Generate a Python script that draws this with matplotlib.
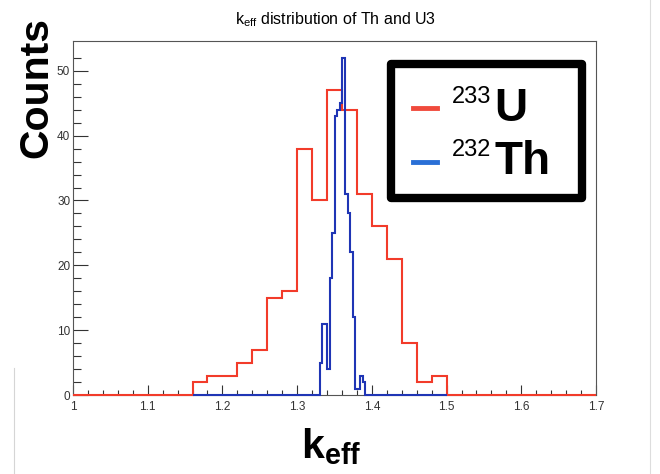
import matplotlib
matplotlib.use("Agg")
import matplotlib.pyplot as plt
from matplotlib.patches import Rectangle
from matplotlib.lines import Line2D
import numpy as np

plt.rcParams['font.family'] = ['Liberation Sans', 'DejaVu Sans']
plt.rcParams['mathtext.fontset'] = 'custom'
plt.rcParams['mathtext.rm'] = 'Liberation Sans'
plt.rcParams['mathtext.it'] = 'Liberation Sans'
plt.rcParams['mathtext.bf'] = 'Liberation Sans:bold'

# ---------------- data ----------------
title = r'k$_{\mathrm{eff}}$ distribution of Th and U3'
xlabel = r'$\mathbf{k_{eff}}$'
ylabel = 'Counts'

# U-233 histogram: 35 bins from 1.0 to 1.7
u233_range = (1.0, 1.7)
u233_counts = [0, 0, 0, 0, 0, 0, 0, 0,
               2, 3, 3, 5, 7, 15, 16, 38, 30, 47, 44, 31, 26, 21, 8, 2, 3,
               0, 0, 0, 0, 0, 0, 0, 0, 0, 0]

# Th-232 histogram: 100 bins from 1.16 to 1.5
th232_range = (1.16, 1.5)
th232_counts = ([0] * 50 +
                [5, 11, 11, 4, 18, 25, 43, 44, 45, 52, 31, 28, 22, 12, 1, 1, 3, 2] +
                [0] * 32)

legend_labels = ['233', '232']
legend_elems = ['U', 'Th']

xticks = [1.0, 1.1, 1.2, 1.3, 1.4, 1.5, 1.6, 1.7]
xticklabels = ['1', '1.1', '1.2', '1.3', '1.4', '1.5', '1.6', '1.7']
yticks = [0, 10, 20, 30, 40, 50]

# ---------------- figure ----------------
W, H = 660, 474
fig = plt.figure(figsize=(W / 100, H / 100), dpi=100)
ax = fig.add_axes([73 / W, 1 - 395 / H, (596 - 73) / W, (395 - 41) / H])

red = '#f23b2a'
blue = '#1f35b5'

u_edges = np.linspace(u233_range[0], u233_range[1], len(u233_counts) + 1)
t_edges = np.linspace(th232_range[0], th232_range[1], len(th232_counts) + 1)
ax.stairs(u233_counts, u_edges, color=red, lw=1.5, baseline=0, clip_on=False, zorder=3)
ax.stairs(th232_counts, t_edges, color=blue, lw=1.5, baseline=0, clip_on=False, zorder=4)

ax.set_xlim(1.0, 1.7)
ax.set_ylim(0, 1.05 * max(max(u233_counts), max(th232_counts)))

ax.set_xticks(xticks)
ax.set_xticklabels(xticklabels)
ax.set_yticks(yticks)
ax.set_xticks(np.arange(1.0, 1.7001, 0.02), minor=True)
ax.set_yticks(np.arange(0, 54, 2), minor=True)
ax.tick_params(which='both', direction='in', top=False, right=False,
               labelsize=8.5, colors='#333333', width=0.8)
ax.tick_params(axis='x', which='major', length=7.5, pad=4)
ax.tick_params(axis='x', which='minor', length=3.8)
ax.tick_params(axis='y', which='major', length=11, pad=2)
ax.tick_params(axis='y', which='minor', length=5.5)
for s in ax.spines.values():
    s.set_color('#555555')
    s.set_linewidth(0.8)

def px(x, y):
    return x / W, 1 - y / H

fig.text(*px(336, 20), title, ha='center', va='center', fontsize=11.5)
fig.text(*px(36, 88), ylabel, rotation=90, ha='center', va='center',
         fontsize=29.5, fontweight='bold')
fig.text(*px(331, 447), xlabel, ha='center', va='center', fontsize=29.5)

# faint screenshot edge lines
fig.lines.append(Line2D([649.5 / W, 649.5 / W], [0, 1], transform=fig.transFigure,
                        color='#dddddd', lw=0.8))
fig.lines.append(Line2D([13.5 / W, 13.5 / W], [0, 1 - 368 / H], transform=fig.transFigure,
                        color='#d5d5d5', lw=0.8))

# legend box
fig.patches.append(Rectangle(px(390.5, 197.5), (581.5 - 390.5) / W, (197.5 - 63.5) / H,
                             transform=fig.transFigure, fill=True, facecolor='white',
                             edgecolor='black', lw=6, joinstyle='round', zorder=5))
legend_colors = ['#f04a3c', '#2a6fd6']
rows_y = [108, 162]
base_y = [121, 174]
for lab, el, c, ly, by in zip(legend_labels, legend_elems, legend_colors, rows_y, base_y):
    x0, y0 = px(413, ly)
    x1, _ = px(437, ly)
    fig.lines.append(Line2D([x0, x1], [y0, y0], transform=fig.transFigure,
                            color=c, lw=3.5, zorder=6))
    fig.text(*px(452, by - 18), lab, ha='left', va='baseline', fontsize=17, zorder=6)
    fig.text(*px(494, by), el, ha='left', va='baseline', fontsize=33,
             fontweight='bold', zorder=6)

fig.savefig('out.png', dpi=100)
